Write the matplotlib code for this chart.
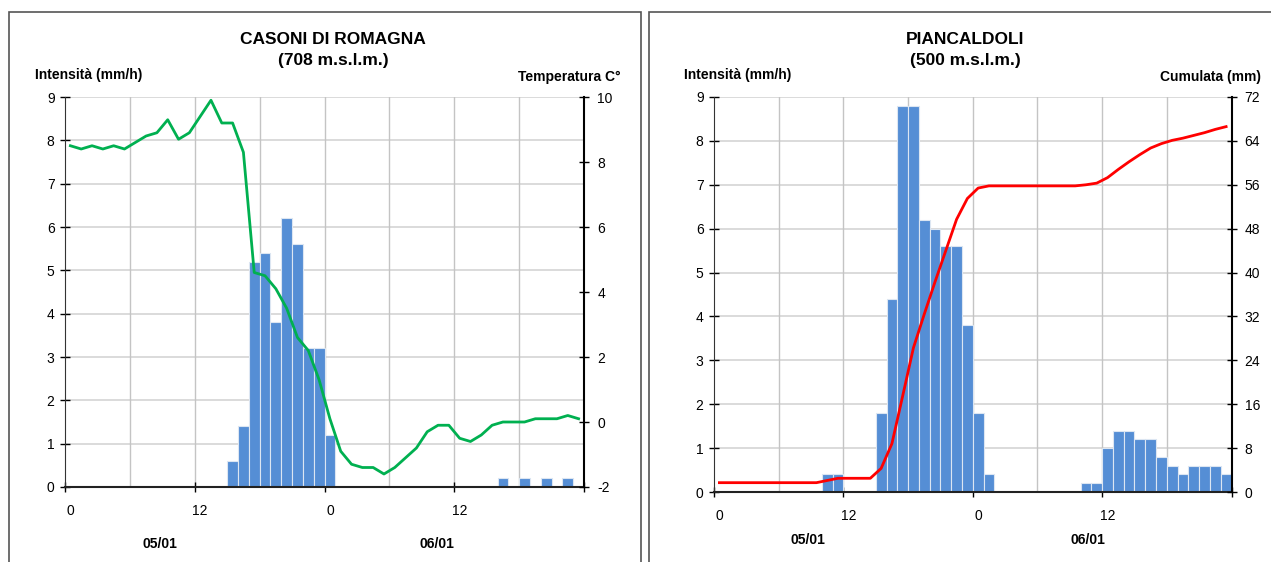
import numpy as np
import matplotlib
matplotlib.use('Agg')
import matplotlib.pyplot as plt
from matplotlib.patches import Rectangle

plt.rcParams['font.family'] = ['Liberation Sans', 'DejaVu Sans']
plt.rcParams['axes.unicode_minus'] = False

# ore 0..47 (05/01 - 06/01)
ore = np.arange(48)
etichette_ore = ['0', '12', '0', '12']
giorni = ['05/01', '06/01']

# CASONI DI ROMAGNA - intensita (mm/h) e temperatura (C)
casoni_pioggia = [0, 0, 0, 0, 0, 0, 0, 0, 0, 0, 0, 0, 0, 0, 0, 0.6,
                  1.4, 5.2, 5.4, 3.8, 6.2, 5.6, 3.2, 3.2, 1.2, 0, 0, 0, 0, 0, 0, 0,
                  0, 0, 0, 0, 0, 0, 0, 0, 0.2, 0, 0.2, 0, 0.2, 0, 0.2, 0]
casoni_temp = [8.5, 8.4, 8.5, 8.4, 8.5, 8.4, 8.6, 8.8, 8.9, 9.3, 8.7, 8.9, 9.4, 9.9, 9.2, 9.2,
               8.3, 4.6, 4.5, 4.1, 3.5, 2.6, 2.2, 1.3, 0.1, -0.9, -1.3, -1.4, -1.4, -1.6, -1.4, -1.1,
               -0.8, -0.3, -0.1, -0.1, -0.5, -0.6, -0.4, -0.1, 0.0, 0.0, 0.0, 0.1, 0.1, 0.1, 0.2, 0.1]

# PIANCALDOLI - intensita (mm/h) e cumulata (mm)
pianc_pioggia = [0, 0, 0, 0, 0, 0, 0, 0, 0, 0, 0.4, 0.4, 0, 0, 0, 1.8,
                 4.4, 8.8, 8.8, 6.2, 6.0, 5.6, 5.6, 3.8, 1.8, 0.4, 0, 0, 0, 0, 0, 0,
                 0, 0, 0.2, 0.2, 1.0, 1.4, 1.4, 1.2, 1.2, 0.8, 0.6, 0.4, 0.6, 0.6, 0.6, 0.4]
pianc_cumulata = [1.7, 1.7, 1.7, 1.7, 1.7, 1.7, 1.7, 1.7, 1.7, 1.7, 2.1, 2.5, 2.5, 2.5, 2.5, 4.3,
                  8.8, 17.5, 26.3, 32.4, 38.3, 44.0, 49.7, 53.5, 55.4, 55.8, 55.8, 55.8, 55.8, 55.8, 55.8, 55.8,
                  55.8, 55.8, 56.0, 56.3, 57.3, 58.8, 60.2, 61.5, 62.7, 63.5, 64.1, 64.5, 65.0, 65.5, 66.1, 66.6]

BLU = '#558ED5'
GRIGLIA = '#D4D4D4'

fig = plt.figure(figsize=(12.71, 5.62), dpi=100)

# cornici dei due riquadri
fig.patches.append(Rectangle((8.5 / 1271, -0.1), (641 - 8.5) / 1271, 1.1 - 12 / 562,
                             transform=fig.transFigure, fill=False, ec='#555555', lw=1.2))
fig.patches.append(Rectangle((649 / 1271, -0.1), 0.6, 1.1 - 12 / 562,
                             transform=fig.transFigure, fill=False, ec='#555555', lw=1.2))


def grafico(rect, pioggia, linea, colore, ylim2, yticks2, titolo, quota, label2, centro, dx2):
    ax = fig.add_axes(rect)
    ax.bar(ore + 0.5, pioggia, width=1.0, color=BLU, edgecolor='#DCE6F2', linewidth=0.8, zorder=2)
    ax.set_xlim(0, 48)
    ax.set_ylim(0, 9)
    ax.set_yticks(range(10))
    # griglia: orizzontale per ogni unita, verticale ogni 6 ore
    for y in range(1, 10):
        ax.axhline(y, color=GRIGLIA, lw=1.2, zorder=1)
    for x in range(6, 48, 6):
        ax.axvline(x, color='#C4C4C4', lw=1.0, zorder=1)
    ax.set_xticks([0, 12, 24, 36, 48])
    ax.set_xticklabels([])
    ax.set_xticks([0.5, 12.5, 24.5, 36.5], minor=True)
    ax.set_xticklabels(etichette_ore, minor=True)
    ax.tick_params(axis='x', which='major', direction='inout', length=7, width=1)
    ax.tick_params(axis='x', which='minor', length=0, pad=12, labelsize=10)
    ax.tick_params(axis='y', direction='inout', length=7, width=1, labelsize=10, pad=4)
    for s in ['top', 'right']:
        ax.spines[s].set_visible(False)
    ax.spines['left'].set_color('#333333')
    ax.spines['bottom'].set_color('#222222')
    ax.spines['bottom'].set_linewidth(1.5)
    ax.spines['bottom'].set_zorder(3)

    ax2 = ax.twinx()
    ax2.plot(ore + 0.5, linea, color=colore, lw=2, zorder=4)
    ax2.set_ylim(*ylim2)
    ax2.set_yticks(yticks2)
    ax2.tick_params(axis='y', direction='inout', length=7, width=1, labelsize=10, pad=6)
    for s in ['top', 'left', 'bottom']:
        ax2.spines[s].set_visible(False)
    ax2.spines['right'].set_linewidth(1.5)

    # titoli
    fig.text(centro, 1 - 40 / 562, titolo, ha='center', va='center', fontsize=12.5, fontweight='bold')
    fig.text(centro, 1 - 60 / 562, quota, ha='center', va='center', fontsize=12.5, fontweight='bold')
    x0 = rect[0]
    x1 = rect[0] + rect[2]
    fig.text(x0 - 30 / 1271, 1 - 75 / 562, 'Intensità (mm/h)', ha='left', va='center',
             fontsize=10, fontweight='bold')
    fig.text(x1 + dx2 / 1271, 1 - 77 / 562, label2, ha='right', va='center',
             fontsize=10, fontweight='bold')
    return ax


grafico([65 / 1271, 75 / 562, 519 / 1271, 390 / 562], casoni_pioggia, casoni_temp, '#00B050',
        (-2, 10), range(-2, 11, 2), 'CASONI DI ROMAGNA', '(708 m.s.l.m.)', 'Temperatura C°',
        333 / 1271, 37)
grafico([714 / 1271, 70 / 562, 517.5 / 1271, 395 / 562], pianc_pioggia, pianc_cumulata, '#FF0000',
        (0, 72), range(0, 73, 8), 'PIANCALDOLI', '(500 m.s.l.m.)', 'Cumulata (mm)',
        965 / 1271, 30)

# date sotto l'asse
for x, g in zip([160, 437], giorni):
    fig.text(x / 1271, 1 - 544 / 562, g, ha='center', va='center', fontsize=10, fontweight='bold')
for x, g in zip([808, 1088], giorni):
    fig.text(x / 1271, 1 - 540 / 562, g, ha='center', va='center', fontsize=10, fontweight='bold')

plt.savefig('out.png', dpi=100)
